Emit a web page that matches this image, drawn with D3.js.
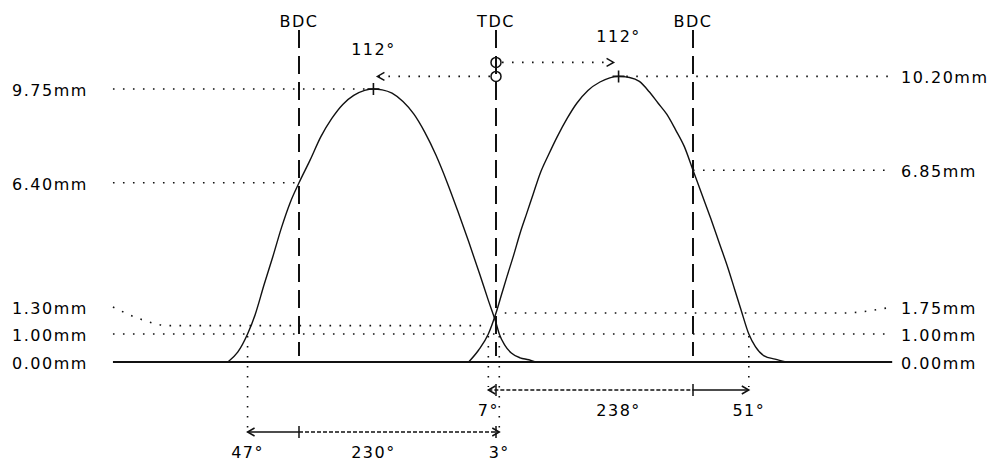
<!DOCTYPE html>
<html>
<head>
<meta charset="utf-8">
<script src="https://cdn.jsdelivr.net/npm/d3@7/dist/d3.min.js"></script>
<style>
  body { margin: 0; background: #fff; }
  text { font-family: "DejaVu Sans", sans-serif; font-size: 16px; letter-spacing: 1.5px; fill: #000; }
</style>
</head>
<body>
<div id="chart"></div>
<script>
const width = 991;
const height = 461;

// crank angle relative to TDC (degrees) and valve lift (mm)
const exhaustAngle = [-245, -236, -227, -220, -212, -204, -196, -188, -180, -170, -160, -150, -140, -130, -120, -112, -104, -95, -85, -75, -65, -55, -45, -35, -25, -15, -7, 0, 3, 8, 14, 22, 30, 36];
const exhaustLift = [0, 0.35, 1.0, 1.7, 2.75, 3.75, 4.8, 5.7, 6.40, 7.2, 8.05, 8.7, 9.2, 9.52, 9.7, 9.75, 9.72, 9.6, 9.3, 8.85, 8.2, 7.4, 6.45, 5.4, 4.3, 3.15, 2.2, 1.40, 1.0, 0.6, 0.32, 0.15, 0.08, 0];

const intakeAngle = [-25, -16, -7, 0, 5, 10, 16, 22, 28, 34, 40, 48, 56, 65, 74, 84, 95, 104, 112, 122, 131, 140, 148, 156, 164, 172, 180, 188, 196, 204, 212, 218, 224, 231, 237, 245, 255, 265];
const intakeLift = [0, 0.42, 1.0, 1.75, 2.4, 3.05, 3.8, 4.6, 5.3, 6.0, 6.7, 7.4, 8.05, 8.7, 9.25, 9.7, 10.0, 10.15, 10.20, 10.16, 10.02, 9.65, 9.25, 8.85, 8.3, 7.7, 6.85, 6.0, 5.15, 4.25, 3.35, 2.6, 1.85, 1.0, 0.55, 0.22, 0.1, 0];

// exhaust lift levels (left) and intake lift levels (right)
const leftLevels = [9.75, 6.40, 1.30, 1.00, 0.00];
const rightLevels = [10.20, 6.85, 1.75, 1.00, 0.00];

// dead centre markers
const centreNames = ["BDC", "TDC", "BDC"];
const centreAngles = [-180, 0, 180];

// timing at 1.00mm lift
const exhaustOpens = 47;   // before BDC
const exhaustCloses = 3;   // after TDC
const intakeOpens = 7;     // before TDC
const intakeCloses = 51;   // after BDC
const peakAngle = 112;     // lobe centre from TDC
const checkLift = 1.0;

const angleRange = [-350, 362];

const x = d3.scaleLinear().domain([-180, 180]).range([299, 693]);
const y = d3.scaleLinear().domain([0, 10]).range([362, 82]);

const svg = d3.select("#chart").append("svg")
  .attr("width", width)
  .attr("height", height);

const dotted = "1.6 8.4";
const ink = "#111";

function hline(a0, a1, lift, dash, w) {
  svg.append("line")
    .attr("x1", x(a0)).attr("x2", x(a1))
    .attr("y1", y(lift)).attr("y2", y(lift))
    .attr("stroke", ink).attr("stroke-width", w || 1.6)
    .attr("stroke-dasharray", dash);
}

// label position: keep clear of the 1.00mm label
const labelY = lift => (lift > checkLift && y(lift) > y(checkLift) - 27) ? y(checkLift) - 27 : y(lift);

const exPeak = exhaustLift.indexOf(d3.max(exhaustLift));
const inPeak = intakeLift.indexOf(d3.max(intakeLift));

// level lines on the left
leftLevels.forEach(lift => {
  if (lift === 0) {
    hline(angleRange[0], angleRange[1], 0, null, 2);
  } else if (lift === checkLift) {
    hline(angleRange[0], angleRange[1], lift, dotted);
  } else if (lift === exhaustLift[exPeak]) {
    hline(angleRange[0], exhaustAngle[exPeak] - 5, lift, dotted);
  } else if (labelY(lift) !== y(lift)) {
    const x0 = x(angleRange[0]);
    const pts = [[x0, labelY(lift)], [x0 + 28, (labelY(lift) + y(lift)) / 2 + 3], [x0 + 55, y(lift)], [x(-6), y(lift)]];
    svg.append("path").attr("d", d3.line().curve(d3.curveMonotoneX)(pts))
      .attr("fill", "none").attr("stroke", ink).attr("stroke-width", 1.6).attr("stroke-dasharray", dotted);
  } else {
    hline(angleRange[0], -180, lift, dotted);
  }
});

// level lines on the right
rightLevels.forEach(lift => {
  if (lift === 0 || lift === checkLift) return;
  if (lift === intakeLift[inPeak]) {
    hline(intakeAngle[inPeak] + 7, angleRange[1], lift, dotted);
  } else if (labelY(lift) !== y(lift)) {
    const x1 = x(angleRange[1]);
    const pts = [[x(8), y(lift)], [x1 - 50, y(lift)], [x1, labelY(lift)]];
    svg.append("path").attr("d", d3.line().curve(d3.curveMonotoneX)(pts))
      .attr("fill", "none").attr("stroke", ink).attr("stroke-width", 1.6).attr("stroke-dasharray", dotted);
  } else {
    hline(180, angleRange[1], lift, dotted);
  }
});

// dead centre dashed lines
centreAngles.forEach((a, i) => {
  svg.append("line")
    .attr("x1", x(a)).attr("x2", x(a))
    .attr("y1", 30).attr("y2", y(0) - 6)
    .attr("stroke", ink).attr("stroke-width", 2)
    .attr("stroke-dasharray", "18 8");
  svg.append("text")
    .attr("x", x(a)).attr("y", 27)
    .attr("text-anchor", "middle")
    .text(centreNames[i]);
});

// lift curves
const liftLine = d3.line()
  .x(d => x(d[0]))
  .y(d => y(d[1]))
  .curve(d3.curveMonotoneX);

[[exhaustAngle, exhaustLift], [intakeAngle, intakeLift]].forEach(([ang, lift]) => {
  svg.append("path")
    .datum(ang.map((a, i) => [a, lift[i]]))
    .attr("d", liftLine)
    .attr("fill", "none")
    .attr("stroke", ink)
    .attr("stroke-width", 1.4);
});

// peak markers
function cross(cx, cy, s) {
  svg.append("path")
    .attr("d", `M${cx - s},${cy}H${cx + s}M${cx},${cy - s}V${cy + s}`)
    .attr("stroke", ink).attr("stroke-width", 1.6);
}
cross(x(-peakAngle), y(exhaustLift[exPeak]), 6);
cross(x(peakAngle), y(intakeLift[inPeak]), 6);

function arrowHead(tx, ty, dir) {
  svg.append("path")
    .attr("d", `M${tx - dir * 7},${ty - 4}L${tx},${ty}L${tx - dir * 7},${ty + 4}`)
    .attr("fill", "none").attr("stroke", ink).attr("stroke-width", 1.5);
}

// lobe centre arrows from TDC
const lowY = y(intakeLift[inPeak]);
const highY = lowY - 14;
svg.append("line")
  .attr("x1", x(0) - 6).attr("x2", x(-peakAngle) + 5)
  .attr("y1", lowY).attr("y2", lowY)
  .attr("stroke", ink).attr("stroke-width", 1.6).attr("stroke-dasharray", dotted);
arrowHead(x(-peakAngle) + 4, lowY, -1);
svg.append("line")
  .attr("x1", x(0) + 6).attr("x2", x(peakAngle) - 6)
  .attr("y1", highY).attr("y2", highY)
  .attr("stroke", ink).attr("stroke-width", 1.6).attr("stroke-dasharray", dotted);
arrowHead(x(peakAngle) - 5, highY, 1);
[lowY, highY].forEach(cy => {
  svg.append("circle")
    .attr("cx", x(0)).attr("cy", cy).attr("r", 5)
    .attr("fill", "none").attr("stroke", ink).attr("stroke-width", 1.5);
});

svg.append("text").attr("x", x(-peakAngle)).attr("y", y(exhaustLift[exPeak]) - 34)
  .attr("text-anchor", "middle").text(peakAngle + "°");
svg.append("text").attr("x", x(peakAngle)).attr("y", y(intakeLift[inPeak]) - 34)
  .attr("text-anchor", "middle").text(peakAngle + "°");

// duration rows
const inRowY = y(0) + 28;
const exRowY = y(0) + 70;
const exStart = -180 - exhaustOpens;
const inEnd = 180 + intakeCloses;

function vdot(a, yEnd) {
  svg.append("line")
    .attr("x1", x(a)).attr("x2", x(a))
    .attr("y1", y(checkLift) + 2).attr("y2", yEnd - 3)
    .attr("stroke", ink).attr("stroke-width", 1.6).attr("stroke-dasharray", dotted);
}
function seg(a0, a1, ry, dash) {
  svg.append("line")
    .attr("x1", x(a0)).attr("x2", x(a1))
    .attr("y1", ry).attr("y2", ry)
    .attr("stroke", ink).attr("stroke-width", 1.5)
    .attr("stroke-dasharray", dash);
}
function tick(a, ry) {
  svg.append("line")
    .attr("x1", x(a)).attr("x2", x(a))
    .attr("y1", ry - 6).attr("y2", ry + 6)
    .attr("stroke", ink).attr("stroke-width", 1.5);
}
function label(a, ry, t) {
  svg.append("text").attr("x", x(a)).attr("y", ry + 25.5)
    .attr("text-anchor", "middle").text(t);
}

vdot(exStart, exRowY);
vdot(exhaustCloses, exRowY);
vdot(-intakeOpens, inRowY);
vdot(inEnd, inRowY);

seg(exStart, -180, exRowY, null);
seg(-180, exhaustCloses, exRowY, "4 2");
tick(-180, exRowY); tick(0, exRowY);
arrowHead(x(exStart), exRowY, -1);
arrowHead(x(exhaustCloses), exRowY, 1);
label(exStart, exRowY, exhaustOpens + "°");
label((exStart + exhaustCloses) / 2, exRowY, (exhaustCloses - exStart) + "°");
label(exhaustCloses, exRowY, exhaustCloses + "°");

seg(-intakeOpens, 180, inRowY, "4 2");
seg(180, inEnd, inRowY, null);
tick(0, inRowY); tick(180, inRowY);
arrowHead(x(-intakeOpens), inRowY, -1);
arrowHead(x(inEnd), inRowY, 1);
label(-intakeOpens, inRowY, intakeOpens + "°");
label((inEnd - intakeOpens) / 2, inRowY, (inEnd + intakeOpens) + "°");
label(inEnd, inRowY, intakeCloses + "°");

// lift labels
leftLevels.forEach(lift => {
  svg.append("text").attr("x", 12).attr("y", labelY(lift) + 7)
    .text(lift.toFixed(2) + "mm");
});
rightLevels.forEach(lift => {
  svg.append("text").attr("x", 901).attr("y", labelY(lift) + 7)
    .text(lift.toFixed(2) + "mm");
});
</script>
</body>
</html>
